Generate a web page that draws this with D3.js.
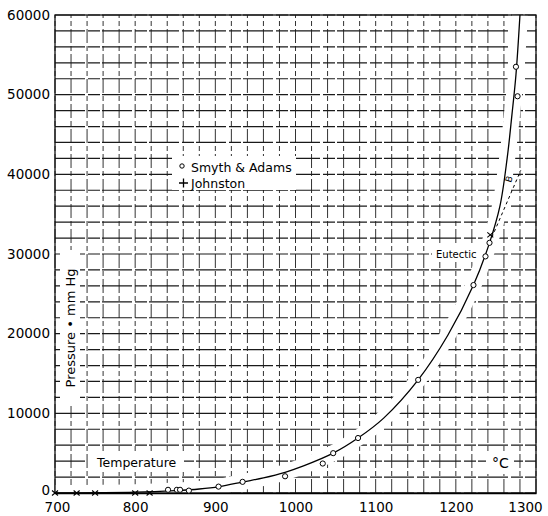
<!DOCTYPE html>
<html>
<head>
<meta charset="utf-8">
<script src="https://cdn.jsdelivr.net/npm/d3@7"></script>
<style>
  body { margin:0; background:#fff; }
  svg { font-family: "DejaVu Sans", sans-serif; }
</style>
</head>
<body>
<div id="chart"></div>
<script>
// vapour pressure curve (deg C, mm Hg)
var curveT = [700, 800, 850, 880, 905, 935, 960, 987, 1010, 1047, 1078, 1110, 1153, 1190, 1222, 1242, 1255, 1264, 1270, 1275, 1280];
var curveP = [0, 100, 300, 500, 800, 1400, 1900, 2600, 3400, 5000, 6900, 9400, 14200, 19800, 26100, 31400, 36000, 42000, 47500, 52500, 60000];

// Smyth & Adams (circles)
var smythT = [841, 852, 856, 867, 904, 934, 987, 1034, 1047, 1078, 1153, 1222, 1237, 1242, 1275, 1277];
var smythP = [400, 400, 400, 300, 800, 1400, 2100, 3700, 5000, 6900, 14200, 26100, 29700, 31400, 53500, 49800];

// Johnston (crosses)
var johnT = [700, 727, 750, 800, 818, 1243];
var johnP = [0, 0, 0, 0, 0, 32400];

// extrapolated dashed line "B"
var dashT = [1242, 1281];
var dashP = [31400, 40500];

var xTicks = [700, 800, 900, 1000, 1100, 1200, 1300];
var yTicks = [0, 10000, 20000, 30000, 40000, 50000, 60000];

var width = 548, height = 516;

var x = d3.scaleLinear().domain([700, 1300]).range([55, 536]);
var y = d3.scaleLinear().domain([0, 60000]).range([493, 15]);

var svg = d3.select("#chart").append("svg")
    .attr("width", width)
    .attr("height", height);

// graph paper
svg.append("g").selectAll("line").data(x.ticks(30)).enter().append("line")
    .attr("x1", d => x(d)).attr("x2", d => x(d))
    .attr("y1", y(0)).attr("y2", y(60000))
    .attr("stroke", "#333").attr("stroke-width", 1)
    .attr("stroke-dasharray", "14,3,5,3");

svg.append("g").selectAll("line").data(y.ticks(30)).enter().append("line")
    .attr("x1", x(700)).attr("x2", x(1300))
    .attr("y1", d => y(d)).attr("y2", d => y(d))
    .attr("stroke", "#1a1a1a").attr("stroke-width", 1.2)
    .attr("stroke-dasharray", "30,3,12,2");

var line = d3.line()
    .x(d => x(d[0]))
    .y(d => y(d[1]))
    .curve(d3.curveCatmullRom);

var curveData = curveT.map((t, i) => [t, curveP[i]]);

// clear band round the curve
svg.append("path").datum(curveData)
    .attr("d", line)
    .attr("fill", "none")
    .attr("stroke", "#fff")
    .attr("stroke-width", 16);

// white patches behind labels
var patches = [[172, 156, 124, 34], [88, 452, 96, 20], [60, 250, 20, 156], [432, 246, 50, 16], [486, 452, 28, 22]];
svg.append("g").selectAll("rect").data(patches).enter().append("rect")
    .attr("x", d => d[0]).attr("y", d => d[1])
    .attr("width", d => d[2]).attr("height", d => d[3])
    .attr("fill", "#fff");

// frame
svg.append("rect")
    .attr("x", x(700)).attr("y", y(60000))
    .attr("width", x(1300) - x(700)).attr("height", y(0) - y(60000))
    .attr("fill", "none").attr("stroke", "#111").attr("stroke-width", 1.3);

svg.append("path").datum(curveData)
    .attr("d", line)
    .attr("fill", "none")
    .attr("stroke", "#000")
    .attr("stroke-width", 1.3);

svg.append("path").datum(dashT.map((t, i) => [t, dashP[i]]))
    .attr("d", d3.line().x(d => x(d[0])).y(d => y(d[1])))
    .attr("fill", "none")
    .attr("stroke", "#000")
    .attr("stroke-width", 1)
    .attr("stroke-dasharray", "3,3");

// axes
var yAxis = svg.append("g")
    .attr("transform", "translate(" + x(700) + ",0)")
    .call(d3.axisLeft(y).tickValues(yTicks).tickSize(0).tickPadding(5).tickFormat(d3.format("d")));
yAxis.select(".domain").remove();
yAxis.selectAll("text").attr("font-size", 13.5).attr("fill", "#000")
    .attr("font-family", "DejaVu Sans")
    .attr("y", d => d === 0 ? -3 : 0);

var xAxis = svg.append("g")
    .attr("transform", "translate(0," + y(0) + ")")
    .call(d3.axisBottom(x).tickValues(xTicks).tickSize(0).tickPadding(9).tickFormat(d3.format("d")));
xAxis.select(".domain").attr("stroke", "#000").attr("stroke-width", 1.3);
xAxis.selectAll("text").attr("font-size", 13.5).attr("fill", "#000")
    .attr("font-family", "DejaVu Sans")
    .attr("dx", d => d === 1300 ? "-11" : d === 700 ? "2" : "0");

// markers
svg.append("g").selectAll("circle").data(smythT).enter().append("circle")
    .attr("cx", d => x(d))
    .attr("cy", (d, i) => y(smythP[i]))
    .attr("r", 2.6)
    .attr("fill", "#fff")
    .attr("stroke", "#000")
    .attr("stroke-width", 1);

svg.append("g").selectAll("path").data(johnT).enter().append("path")
    .attr("transform", (d, i) => "translate(" + x(d) + "," + y(johnP[i]) + ")")
    .attr("d", "M-3,-2.5L3,2.5M-3,2.5L3,-2.5")
    .attr("stroke", "#000")
    .attr("stroke-width", 1.1);

// legend
var lg = svg.append("g").attr("font-size", 12.5).attr("fill", "#000");
lg.append("circle").attr("cx", 182).attr("cy", 166).attr("r", 2.2)
    .attr("fill", "#fff").attr("stroke", "#000");
lg.append("text").attr("x", 191).attr("y", 172).text("Smyth & Adams");
lg.append("path").attr("d", "M179,183H188M183.5,178.5V187.5").attr("stroke", "#000").attr("stroke-width", 1.3);
lg.append("text").attr("x", 191).attr("y", 188).text("Johnston");

// annotations
svg.append("text").attr("x", 97).attr("y", 467).attr("font-size", 12.5).text("Temperature");
svg.append("text").attr("x", 492).attr("y", 468).attr("font-size", 14).text("\u00b0C");
svg.append("text").attr("x", 436).attr("y", 258).attr("font-size", 10).text("Eutectic");
svg.append("text")
    .attr("transform", "translate(512,180) rotate(-72)")
    .attr("text-anchor", "middle")
    .attr("font-size", 9).text("B");
svg.append("text")
    .attr("transform", "translate(75,328) rotate(-90)")
    .attr("text-anchor", "middle")
    .attr("font-size", 13).text("Pressure \u2022  mm   Hg");
</script>
</body>
</html>
